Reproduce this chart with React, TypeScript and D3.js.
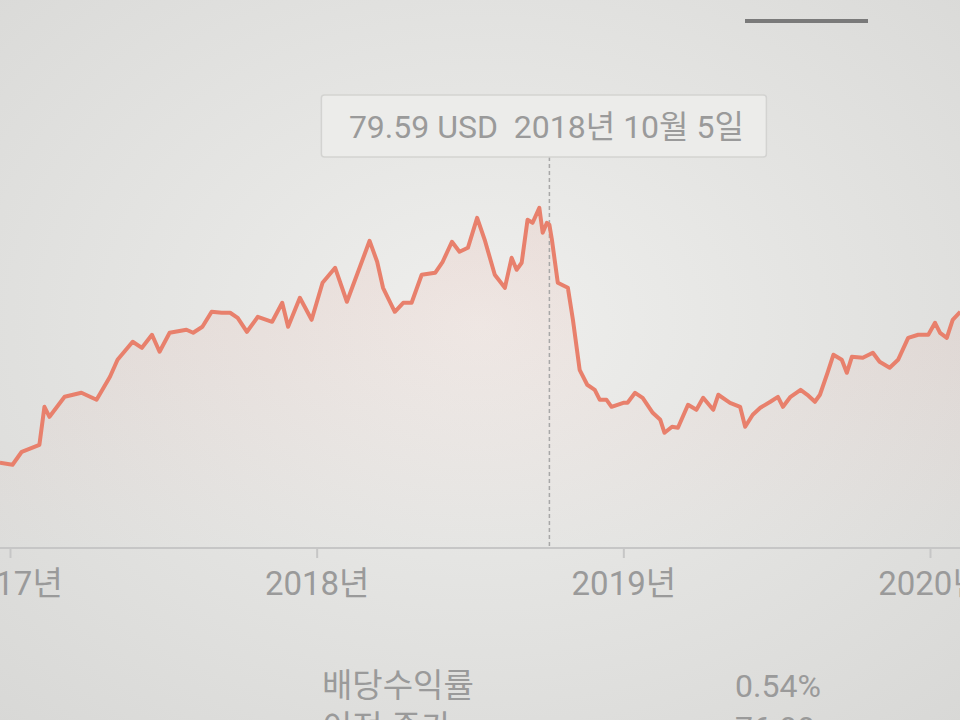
import React, { useEffect, useRef } from 'react';
import * as d3 from 'd3';

// price series (USD)
const dates = [
  '2016-12-20', '2017-01-04', '2017-01-15', '2017-02-05', '2017-02-11', '2017-02-17',
  '2017-03-07', '2017-03-27', '2017-04-14', '2017-04-30', '2017-05-09', '2017-05-27',
  '2017-06-07', '2017-06-19', '2017-06-28', '2017-07-10', '2017-07-30', '2017-08-07',
  '2017-08-18', '2017-08-29', '2017-09-10', '2017-09-20', '2017-09-29', '2017-10-10',
  '2017-10-23', '2017-11-09', '2017-11-21', '2017-11-28', '2017-12-12', '2017-12-26',
  '2018-01-08', '2018-01-23', '2018-02-06', '2018-03-05', '2018-03-14', '2018-03-21',
  '2018-04-04', '2018-04-14', '2018-04-24', '2018-05-06', '2018-05-22', '2018-05-31',
  '2018-06-11', '2018-06-20', '2018-06-30', '2018-07-11', '2018-07-20', '2018-08-01',
  '2018-08-13', '2018-08-21', '2018-08-27', '2018-09-02', '2018-09-09', '2018-09-15',
  '2018-09-23', '2018-09-27', '2018-10-02', '2018-10-05', '2018-10-08', '2018-10-15',
  '2018-10-27', '2018-11-02', '2018-11-10', '2018-11-19', '2018-11-28', '2018-12-04',
  '2018-12-12', '2018-12-18', '2019-01-01', '2019-01-06', '2019-01-15', '2019-01-24',
  '2019-02-05', '2019-02-14', '2019-02-19', '2019-02-28', '2019-03-07', '2019-03-19',
  '2019-03-29', '2019-04-06', '2019-04-18', '2019-04-24', '2019-05-08', '2019-05-20',
  '2019-05-26', '2019-06-04', '2019-06-13', '2019-06-25', '2019-07-04', '2019-07-10',
  '2019-07-19', '2019-07-31', '2019-08-08', '2019-08-17', '2019-08-23', '2019-09-01',
  '2019-09-08', '2019-09-18', '2019-09-24', '2019-09-30', '2019-10-13', '2019-10-25',
  '2019-11-02', '2019-11-14', '2019-11-24', '2019-12-06', '2019-12-18', '2019-12-30',
  '2020-01-07', '2020-01-13', '2020-01-21', '2020-01-28', '2020-02-06',
];

const prices = [
  37.47, 37.12, 39.42, 40.66, 47.38, 45.61,
  49.15, 49.86, 48.62, 52.69, 55.7, 58.89,
  57.82, 60.13, 57.12, 60.48, 61.01, 60.48,
  61.54, 64.2, 64.02, 64.02, 63.13, 60.66,
  63.31, 62.43, 65.79, 61.54, 66.67, 62.78,
  69.33, 71.98, 65.97, 76.76, 73.05, 68.44,
  64.2, 65.79, 65.79, 70.75, 71.1, 73.05,
  76.59, 74.82, 75.52, 80.83, 76.94, 70.75,
  68.44, 73.75, 71.63, 72.87, 80.48, 79.95,
  82.6, 78.18, 79.95, 79.59, 76.94, 69.33,
  68.44, 62.78, 53.93, 51.28, 50.39, 48.62,
  48.62, 47.38, 48.09, 48.09, 49.86, 48.97,
  46.32, 45.08, 42.78, 43.84, 43.66, 47.74,
  46.85, 48.97, 46.85, 49.51, 48.09, 47.38,
  43.84, 45.97, 47.2, 48.27, 49.15, 47.38,
  49.15, 50.39, 49.51, 48.27, 49.51, 53.4,
  56.59, 55.7, 53.4, 56.23, 56.05, 56.94,
  55.35, 54.28, 55.7, 59.59, 60.13, 60.13,
  62.25, 60.48, 59.59, 62.78, 64.2,
];

const yearTicks = ['2017-01-01', '2018-01-01', '2019-01-01', '2020-01-01'];

const tooltipDate = '2018-10-05';
const tooltipText = '79.59 USD  2018년 10월 5일';

const statLabels = ['배당수익률', '이전 종가'];
const statValues = ['0.54%', '76.99'];

const App: React.FC = () => {
  const svgRef = useRef<SVGSVGElement>(null);

  useEffect(() => {
    if (!svgRef.current) return;
    const svg = d3.select(svgRef.current);
    svg.selectAll('*').remove();

    const width = 960;
    const height = 720;
    const axisY = 548;
    const font = "Roboto, 'Noto Sans CJK KR', sans-serif";
    const textColor = '#9a9a9a';

    const parse = d3.timeParse('%Y-%m-%d');
    const data = dates.map((d, i) => ({ date: parse(d) as Date, value: prices[i] }));

    const x = d3.scaleTime()
      .domain([parse('2017-01-01') as Date, parse('2020-01-01') as Date])
      .range([10, 930]);

    const y = d3.scaleLinear()
      .domain([30, 90])
      .range([505, 166]);

    // photo-like background
    const defs = svg.append('defs');
    const bg = defs.append('radialGradient')
      .attr('id', 'bg')
      .attr('cx', '50%').attr('cy', '45%').attr('r', '75%');
    bg.append('stop').attr('offset', '0%').attr('stop-color', '#efefed');
    bg.append('stop').attr('offset', '100%').attr('stop-color', '#d8d8d6');

    const areaGrad = defs.append('linearGradient')
      .attr('id', 'area')
      .attr('x1', 0).attr('y1', 0).attr('x2', 0).attr('y2', 1);
    areaGrad.append('stop').attr('offset', '0%').attr('stop-color', '#e8806c').attr('stop-opacity', 0.12);
    areaGrad.append('stop').attr('offset', '100%').attr('stop-color', '#e8806c').attr('stop-opacity', 0);

    svg.append('rect')
      .attr('width', width)
      .attr('height', height)
      .attr('fill', 'url(#bg)');

    // tab underline top right
    svg.append('line')
      .attr('x1', 745).attr('x2', 868)
      .attr('y1', 21).attr('y2', 21)
      .attr('stroke', '#7a7a7a')
      .attr('stroke-width', 4);

    // area + line
    const area = d3.area<{ date: Date; value: number }>()
      .x(d => x(d.date))
      .y0(axisY)
      .y1(d => y(d.value));

    svg.append('path')
      .datum(data)
      .attr('fill', 'url(#area)')
      .attr('d', area);

    const line = d3.line<{ date: Date; value: number }>()
      .x(d => x(d.date))
      .y(d => y(d.value));

    // x axis
    const axis = svg.append('g')
      .attr('transform', `translate(0,${axisY})`)
      .call(d3.axisBottom(x)
        .tickValues(yearTicks.map(t => parse(t) as Date))
        .tickFormat(d => `${d3.timeFormat('%Y')(d as Date)}년`)
        .tickSize(10)
        .tickPadding(14));

    axis.select('.domain')
      .attr('d', `M0,0H${width}`)
      .attr('stroke', '#c6c6c6')
      .attr('stroke-width', 2);
    axis.selectAll('.tick line')
      .attr('stroke', '#c6c6c6')
      .attr('stroke-width', 2);
    axis.selectAll('.tick text')
      .attr('fill', textColor)
      .attr('font-family', font)
      .attr('font-size', 33);

    // hover marker
    const tx = x(parse(tooltipDate) as Date);
    svg.append('line')
      .attr('x1', tx).attr('x2', tx)
      .attr('y1', 157).attr('y2', axisY)
      .attr('stroke', '#a8a8a8')
      .attr('stroke-width', 1.5)
      .attr('stroke-dasharray', '4,3');

    svg.append('path')
      .datum(data)
      .attr('fill', 'none')
      .attr('stroke', '#e8806c')
      .attr('stroke-width', 4)
      .attr('stroke-linejoin', 'round')
      .attr('d', line);

    // tooltip
    svg.append('rect')
      .attr('x', tx - 228).attr('y', 95)
      .attr('width', 445).attr('height', 62)
      .attr('rx', 3)
      .attr('fill', '#ececea')
      .attr('stroke', '#d3d3d1')
      .attr('stroke-width', 1.5);

    svg.append('text')
      .attr('x', tx - 3)
      .attr('y', 138)
      .attr('text-anchor', 'middle')
      .attr('fill', textColor)
      .attr('font-family', font)
      .attr('font-size', 32)
      .style('white-space', 'pre')
      .text(tooltipText);

    // key stats below the chart
    statLabels.forEach((label, i) => {
      svg.append('text')
        .attr('x', 322)
        .attr('y', 697 + i * 42)
        .attr('fill', textColor)
        .attr('font-family', font)
        .attr('font-size', 33)
        .text(label);
      svg.append('text')
        .attr('x', 735)
        .attr('y', 697 + i * 42)
        .attr('fill', textColor)
        .attr('font-family', font)
        .attr('font-size', 32)
        .text(statValues[i]);
    });
  }, []);

  return (
    <div style={{ position: 'absolute', top: 0, left: 0 }}>
      <svg ref={svgRef} width={960} height={720} style={{ display: 'block' }} />
    </div>
  );
};

export default App;
